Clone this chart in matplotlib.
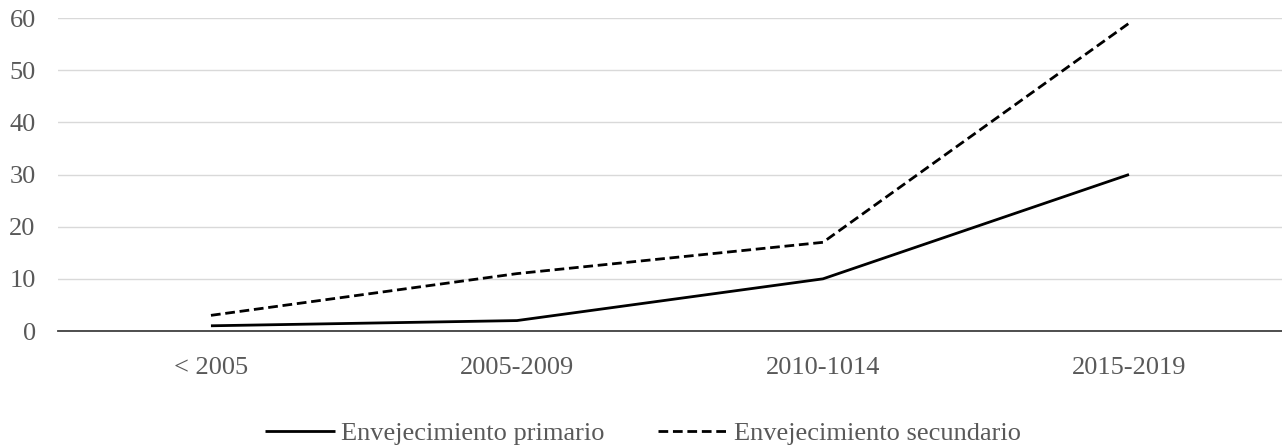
import matplotlib.pyplot as plt
import numpy as np

periods = ["< 2005", "2005-2009", "2010-1014", "2015-2019"]
primario = [1, 2, 10, 30]
secundario = [3, 11, 17, 59]

plt.rcParams["font.family"] = ["Liberation Serif", "DejaVu Serif"]
grey_text = "#595959"

fig = plt.figure(figsize=(12.82, 4.47), dpi=100)
ax = fig.add_axes([0.0452, 0.2595, 0.9548, 0.7002])

x = np.arange(len(periods))
ax.plot(x, primario, color="black", linewidth=2.0, solid_capstyle="butt",
        label="Envejecimiento primario")
ax.plot(x, secundario, color="black", linewidth=2.0, dashes=(3.5, 1.7),
        label="Envejecimiento secundario")

ax.set_xlim(-0.5, 3.5)
ax.set_ylim(0, 60)
ax.set_yticks(range(0, 61, 10))
ax.set_xticks(x)
ax.set_xticklabels(periods)

ax.grid(axis="y", color="#d9d9d9", linewidth=1.0)
ax.set_axisbelow(True)
for side in ["top", "right", "left"]:
    ax.spines[side].set_visible(False)
ax.spines["bottom"].set_color("#404040")
ax.spines["bottom"].set_linewidth(1.3)
ax.spines["bottom"].set_zorder(5)

ax.tick_params(axis="both", length=0, labelsize=19, labelcolor=grey_text)
ax.tick_params(axis="y", pad=16)
ax.tick_params(axis="x", pad=18.5)

leg = fig.legend(loc="center", bbox_to_anchor=(0.5016, 0.03), ncol=2,
                 frameon=False, fontsize=19, handlelength=2.65,
                 handletextpad=0.25, columnspacing=2.0)
for t in leg.get_texts():
    t.set_color(grey_text)

fig.savefig("out.png", dpi=100)
